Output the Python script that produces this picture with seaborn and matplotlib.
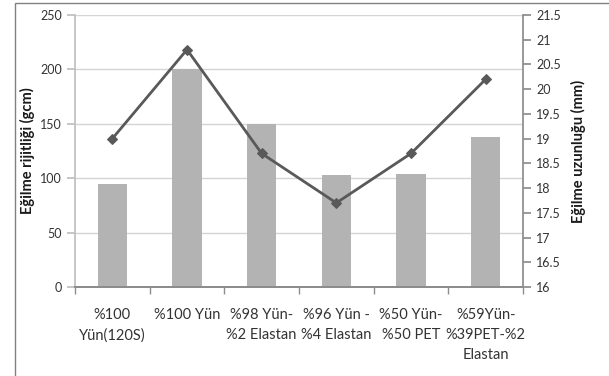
import matplotlib
matplotlib.use("Agg")
import matplotlib.pyplot as plt
import seaborn as sns
import pandas as pd
from matplotlib.patches import Rectangle

categories = ["%100\nYün(120S)", "%100 Yün", "%98 Yün-\n%2 Elastan",
              "%96 Yün -\n%4 Elastan", "%50 Yün-\n%50 PET", "%59Yün-\n%39PET-%2\nElastan"]
rigidity = [95, 200, 150, 103, 104, 138]          # Eğilme rijitliği (gcm)
bend_length = [19.0, 20.8, 18.7, 17.7, 18.7, 20.2]  # Eğilme uzunluğu (mm)
left_ticks = [0, 50, 100, 150, 200, 250]
right_ticks = [16, 16.5, 17, 17.5, 18, 18.5, 19, 19.5, 20, 20.5, 21, 21.5]

sns.set_theme(style="white")
plt.rcParams['font.family'] = ['Lato', 'DejaVu Sans']

df = pd.DataFrame({"cat": categories, "rig": rigidity, "len": bend_length})

fig = plt.figure(figsize=(6.09, 3.76), dpi=100)
fig.patches.append(Rectangle((15/609, -0.1), 1.2, 1 - 3/376 + 0.1, transform=fig.transFigure,
                             fill=False, edgecolor="#808080", linewidth=1.0))
ax = fig.add_axes([75/609, 1 - 287/376, (523 - 75)/609, (287 - 15)/376])

sns.barplot(data=df, x="cat", y="rig", color="#b3b3b3", saturation=1, width=0.39, ax=ax)
for p in ax.patches:
    p.set_edgecolor("none")
ax.set_ylim(0, 250)
ax.set_xlim(-0.5, 5.5)
ax.set_yticks(left_ticks)
ax.yaxis.grid(True, color="#d4d4d4", linewidth=1)
ax.set_axisbelow(True)
ax.set_xlabel("")
ax.set_ylabel("Eğilme rijitliği (gcm)", fontsize=10.5, fontweight="bold", color="#1a1a1a", labelpad=3.5)

ax2 = ax.twinx()
sns.lineplot(x=list(range(len(categories))), y=bend_length, ax=ax2, color="#595959",
             linewidth=2, marker="D", markersize=5.5, markeredgecolor="#595959")
ax2.set_ylim(16, 21.5)
ax2.set_yticks(right_ticks)
ax2.set_yticklabels([f"{t:g}" for t in right_ticks])
ax2.set_ylabel("Eğilme uzunluğu (mm)", fontsize=10.5, fontweight="bold", color="#1a1a1a", labelpad=7)
ax2.set_xlim(-0.5, 5.5)

for a in (ax, ax2):
    a.spines["top"].set_visible(False)
    a.spines["left"].set_color("#bfbfbf")
    a.spines["right"].set_color("#8c8c8c")
    a.spines["bottom"].set_color("#8c8c8c")
ax2.spines["left"].set_visible(False)
ax.spines["right"].set_visible(False)

ax.set_xticks(range(len(categories)))
ax.set_xticklabels(categories, fontsize=10.5, color="#333333", linespacing=1.55)
ax.tick_params(axis="x", length=0, pad=15)
ax.set_xticks([i - 0.5 for i in range(len(categories) + 1)], minor=True)
ax.tick_params(axis="x", which="minor", length=5, color="#8c8c8c", direction="out", bottom=True)
for lbl in ax.get_xticklabels():
    lbl.set_verticalalignment("top")
ax.tick_params(axis="y", length=5.5, color="#bfbfbf", labelsize=9, labelcolor="#333333", left=True, pad=4)
ax2.tick_params(axis="y", length=5.5, color="#8c8c8c", labelsize=9, labelcolor="#333333", right=True, pad=4)

fig.savefig("out.png", dpi=100)
